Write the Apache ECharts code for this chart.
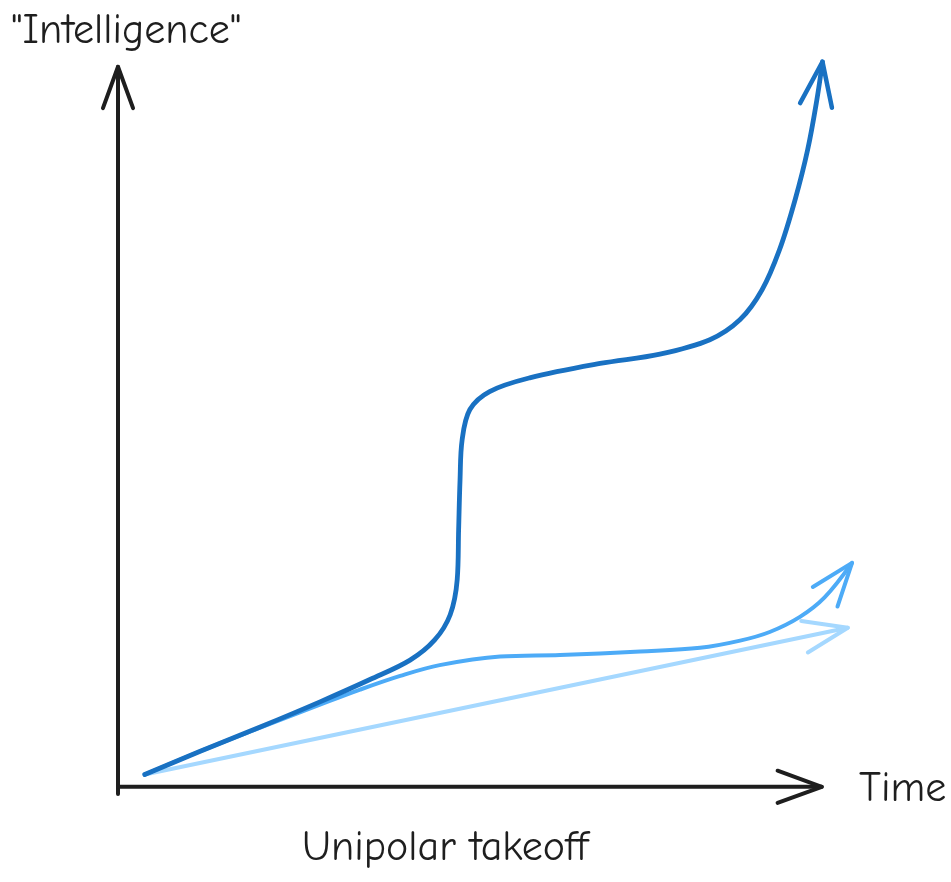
<!DOCTYPE html>
<html>
<head>
<meta charset="utf-8">
<script src="https://cdn.jsdelivr.net/npm/echarts@6/dist/echarts.min.js"></script>
<style>
  html, body { margin: 0; padding: 0; background: #ffffff; }
  #chart { width: 951px; height: 882px; }
</style>
</head>
<body>
<div id="chart"></div>
<script>
// Axis ranges (time on x, "intelligence" on y); the drawn axes stop at 100
const timeRange = [0, 106];
const intelligenceRange = [-1, 102];
const axisEnd = 100;

// Leading curve: slow climb, sudden jump, plateau, then runaway growth
const leaderX = [3.8, 11.6, 20.2, 28.7, 35.8, 41.5, 45.0, 47.2, 48.2, 48.4, 48.6, 48.9, 50.0, 52.8, 58.5, 68.5, 77.0, 84.1, 88.4, 91.5, 94.0, 96.2, 98.0, 99.3, 100.1];
const leaderY = [1.7, 4.9, 8.3, 11.8, 14.9, 17.6, 20.4, 23.9, 28.8, 35.7, 42.6, 48.2, 52.4, 54.9, 56.8, 58.8, 60.1, 62.1, 64.9, 69.0, 74.6, 81.5, 88.5, 95.4, 100.7];

// Follower curve: tracks the leader early, then flattens and rises late
const followerX = [3.8, 11.6, 20.2, 28.7, 34.4, 40.1, 45.7, 54.3, 62.8, 74.2, 82.7, 88.4, 92.6, 96.9, 100.4, 104.3];
const followerY = [1.7, 4.9, 8.2, 11.4, 13.5, 15.4, 16.9, 18.1, 18.3, 18.8, 19.3, 20.3, 21.5, 23.6, 26.3, 31.1];

// Baseline: steady linear progress
const baselineX = [3.8, 103.7];
const baselineY = [1.7, 22.1];

// Text
const yAxisTitle = '"Intelligence"';
const xAxisTitle = 'Time';
const chartCaption = 'Unipolar takeoff';

const INK = '#1e1e1e';
const LEADER = '#1971c2';
const FOLLOWER = '#4dabf7';
const BASELINE = '#a5d8ff';
const FONT = '"Comic Neue", "Lato", "Noto Sans", sans-serif';

const zip = (xs, ys) => xs.map((x, i) => [x, ys[i]]);
const leader = zip(leaderX, leaderY);
const follower = zip(followerX, followerY);
const baseline = zip(baselineX, baselineY);

// Axis strokes and arrowheads (tip point plus a point behind it for direction)
const marks = [
  { kind: 'line', from: [0, intelligenceRange[0]], to: [0, axisEnd], color: INK, width: 4 },
  { kind: 'line', from: [0, 0], to: [axisEnd, 0], color: INK, width: 4 },
  { kind: 'arrow', tip: [axisEnd, 0], back: [0, 0], color: INK, width: 4, len: 47 },
  { kind: 'arrow', tip: [0, axisEnd], back: [0, 0], color: INK, width: 4, len: 44 },
  { kind: 'arrow', tip: baseline[baseline.length - 1], back: baseline[0], color: BASELINE, width: 4, len: 47 },
  { kind: 'arrow', tip: follower[follower.length - 1], back: follower[follower.length - 2], color: FOLLOWER, width: 4, len: 46 },
  { kind: 'arrow', tip: leader[leader.length - 1], back: leader[leader.length - 2], color: LEADER, width: 4.5, len: 47 }
];

function renderMark(params, api) {
  const m = marks[params.dataIndex];
  const style = { stroke: m.color, lineWidth: m.width, fill: null, lineCap: 'round', lineJoin: 'round' };
  if (m.kind === 'line') {
    return { type: 'polyline', shape: { points: [api.coord(m.from), api.coord(m.to)] }, style: style };
  }
  const t = api.coord(m.tip);
  const b = api.coord(m.back);
  const ang = Math.atan2(b[1] - t[1], b[0] - t[0]);
  const half = 20 * Math.PI / 180;
  const a1 = [t[0] + m.len * Math.cos(ang + half), t[1] + m.len * Math.sin(ang + half)];
  const a2 = [t[0] + m.len * Math.cos(ang - half), t[1] + m.len * Math.sin(ang - half)];
  return { type: 'polyline', shape: { points: [a1, t, a2] }, style: style };
}

const curveLine = (data, color, width, z) => ({
  type: 'line',
  data: data,
  smooth: 0.35,
  showSymbol: false,
  symbol: 'none',
  silent: true,
  z: z,
  lineStyle: { color: color, width: width, cap: 'round', join: 'round' }
});

const hiddenAxis = (range) => ({
  type: 'value',
  min: range[0],
  max: range[1],
  axisLine: { show: false },
  axisTick: { show: false },
  axisLabel: { show: false },
  splitLine: { show: false }
});

const chart = echarts.init(document.getElementById('chart'), null, { renderer: 'canvas' });
chart.setOption({
  backgroundColor: '#ffffff',
  animation: false,
  grid: { left: 118, right: 87, top: 52.4, bottom: 88 },
  xAxis: hiddenAxis(timeRange),
  yAxis: hiddenAxis(intelligenceRange),
  series: [
    {
      type: 'custom',
      coordinateSystem: 'cartesian2d',
      silent: true,
      z: 1,
      data: marks.slice(0, 4).map(() => [0, 0]),
      renderItem: renderMark
    },
    curveLine(baseline, BASELINE, 4, 2),
    curveLine(follower, FOLLOWER, 4, 3),
    curveLine(leader, LEADER, 4.8, 4),
    {
      type: 'custom',
      coordinateSystem: 'cartesian2d',
      silent: true,
      z: 5,
      data: marks.map(() => [0, 0]),
      renderItem: (params, api) => params.dataIndex < 4 ? null : renderMark(params, api)
    }
  ],
  graphic: [
    { type: 'text', left: 11, top: 10, style: { text: yAxisTitle, font: '42px ' + FONT, fill: INK } },
    { type: 'text', left: 859, top: 768, style: { text: xAxisTitle, font: '42px ' + FONT, fill: INK } },
    { type: 'text', left: 302, top: 827, style: { text: chartCaption, font: '42px ' + FONT, fill: INK } }
  ]
});
</script>
</body>
</html>
